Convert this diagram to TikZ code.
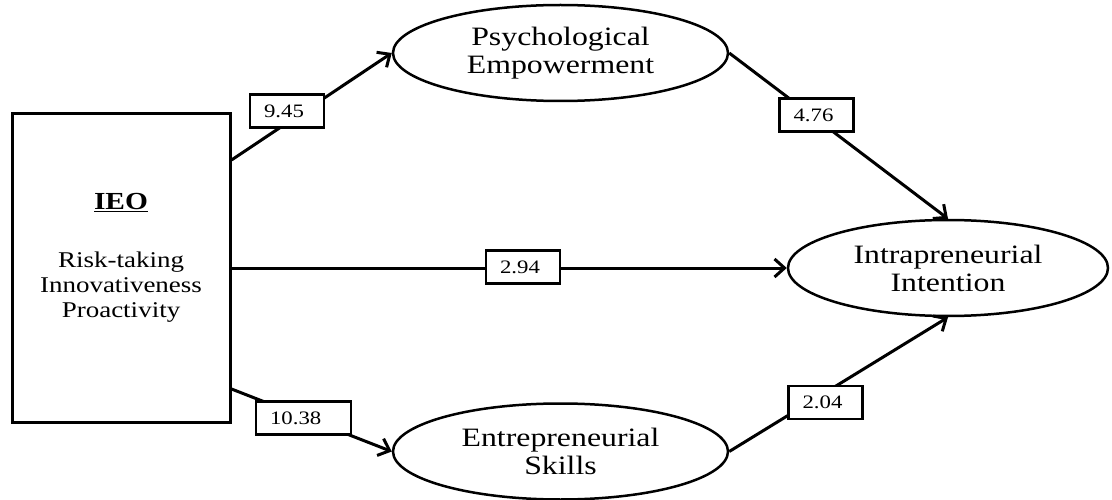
\documentclass[tikz,border=0pt]{standalone}
\usepackage{fontspec}
\setmainfont{Liberation Serif}[FakeStretch=1.2]
\usetikzlibrary{arrows.meta,positioning,shapes.geometric}
\newcommand{\EllW}{335pt}
\newcommand{\EllH}{96pt}
\newcommand{\CoefH}{33pt}

\begin{document}
\begin{tikzpicture}[x=1pt,y=1pt,
  construct/.style={ellipse, draw, line width=2.5pt, minimum width=\EllW, minimum height=\EllH,
    inner sep=0pt, align=center, font=\fontsize{26.5}{28}\selectfont},
  ieobox/.style={rectangle, draw, line width=3pt, minimum width=218pt, minimum height=308pt},
  link/.style={line width=3pt, -{Straight Barb[length=10pt,width=18pt]}},
  coef/.style={draw, line width=2.8pt, fill=white, minimum height=\CoefH, inner xsep=14pt,
    inner ysep=0pt, text width=#1, align=left, font=\fontsize{19}{20}\selectfont},
  coef/.default=46pt
]
\useasboundingbox (0,0) rectangle (1112,499);

% ----- Constructs -----
\node[ieobox] (ieo) at (121,231) {};
\node[align=center, font=\fontsize{22.5}{25}\selectfont] (ieotext) at ([yshift=10.5pt]ieo.center)
  {{\fontsize{24.5}{25}\selectfont\bfseries\underline{IEO}}\\[33pt]
   Risk-taking\\Innovativeness\\Proactivity};

\node[construct] (pe) at (560.5,446) {Psychological\\Empowerment};
\node[construct, minimum width=320pt] (ii) at (948,231) {Intrapreneurial\\Intention};
\node[construct] (es) at (560.5,47.5) {Entrepreneurial\\Skills};

% ----- Paths -----
\draw[link] ([yshift=108pt]ieo.east) -- (pe.west);
\draw[link] (ieo.east) -- (ii.west);
\draw[link] ([yshift=-121pt]ieo.east) -- (es.west);
\draw[link] (pe.east) -- (ii.north);
\draw[link] (es.east) -- (ii.south);

% ----- Coefficients -----
\node[coef] (c945) at (287,388) {9.45};
\node[coef] (c476) at (816.5,384) {4.76};
\node[coef] (c294) at (523,232) {2.94};
\node[coef=67pt] (c1038) at (303.5,81) {10.38};
\node[coef] (c204) at (825.5,96.5) {2.04};

\end{tikzpicture}
\end{document}
